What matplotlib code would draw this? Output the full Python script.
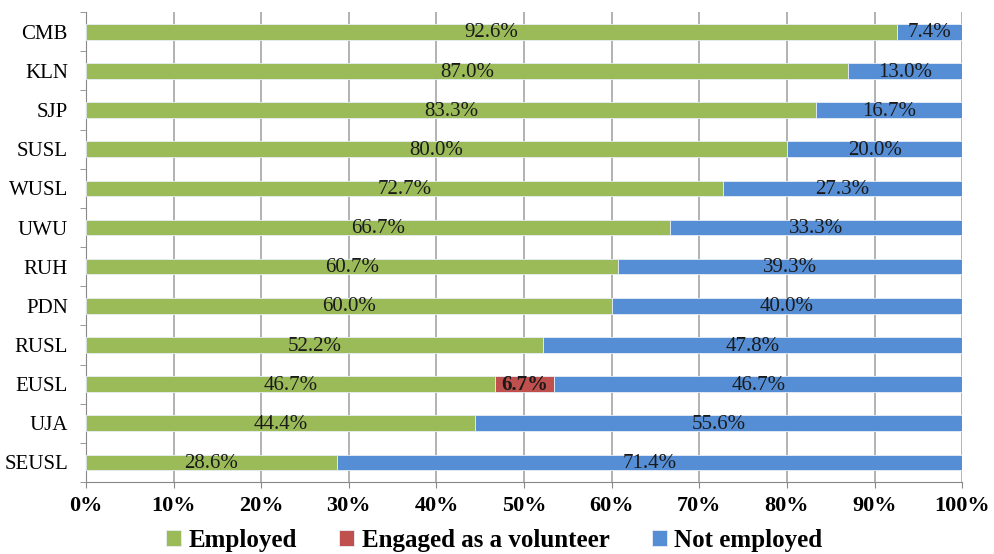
import numpy as np
import matplotlib.pyplot as plt

universities = ["CMB", "KLN", "SJP", "SUSL", "WUSL", "UWU", "RUH", "PDN",
                "RUSL", "EUSL", "UJA", "SEUSL"]
employed = [92.6, 87.0, 83.3, 80.0, 72.7, 66.7, 60.7, 60.0, 52.2, 46.7, 44.4, 28.6]
volunteer = [0, 0, 0, 0, 0, 0, 0, 0, 0, 6.7, 0, 0]
not_employed = [7.4, 13.0, 16.7, 20.0, 27.3, 33.3, 39.3, 40.0, 47.8, 46.7, 55.6, 71.4]

plt.rcParams['font.family'] = ['Liberation Serif', 'DejaVu Serif']

fig = plt.figure(figsize=(9.94, 5.54), dpi=100)
ax = fig.add_axes([0.0865, 0.130, 0.8815, 0.848])

y = np.arange(len(universities))
emp = np.array(employed)
vol = np.array(volunteer)
nem = np.array(not_employed)
h = 0.40

series = [("Employed", emp, np.zeros_like(emp), "#9BBB59"),
          ("Engaged as a volunteer", vol, emp, "#C0504D"),
          ("Not employed", nem, emp + vol, "#558ED5")]

for name, vals, left, col in series:
    ax.barh(y, vals, left=left, height=h, color=col, edgecolor="#E8EEF7",
            linewidth=0.6, label=name, zorder=3)
    for yi, v, l in zip(y, vals, left):
        if v > 0:
            bold = name.startswith("Engaged")
            ax.text(l + v / 2, yi + 0.03, f"{v:.1f}%", ha="center", va="center",
                    fontsize=15, color="#1a1a1a", zorder=4,
                    fontweight="bold" if bold else "normal")

ax.set_xlim(0, 100)
ax.set_ylim(len(universities) - 0.5, -0.5)
ax.set_xticks(np.arange(0, 101, 10))
ax.set_xticklabels([f"{t}%" for t in range(0, 101, 10)], fontweight="bold", fontsize=16)
ax.set_yticks(y)
ax.set_yticklabels(universities, fontsize=15)
ax.set_yticks(np.arange(-0.5, len(universities), 1), minor=True)
ax.tick_params(axis="y", which="major", length=0, pad=13)
ax.tick_params(axis="y", which="minor", length=4, color="#888888")
ax.tick_params(axis="x", length=4, color="#888888", pad=6)

ax.grid(axis="x", color="#A6A6A6", linewidth=1.2, zorder=0)
for s in ["top", "right"]:
    ax.spines[s].set_visible(False)
for s in ["left", "bottom"]:
    ax.spines[s].set_color("#888888")

handles, labels = ax.get_legend_handles_labels()
fig.legend(handles, labels, loc="center", bbox_to_anchor=(0.497, 0.025), ncol=3,
           frameon=False, prop={"weight": "bold", "size": 18}, handlelength=0.6,
           handleheight=0.6, handletextpad=0.3, columnspacing=1.7)

fig.savefig("out.png", dpi=100)
